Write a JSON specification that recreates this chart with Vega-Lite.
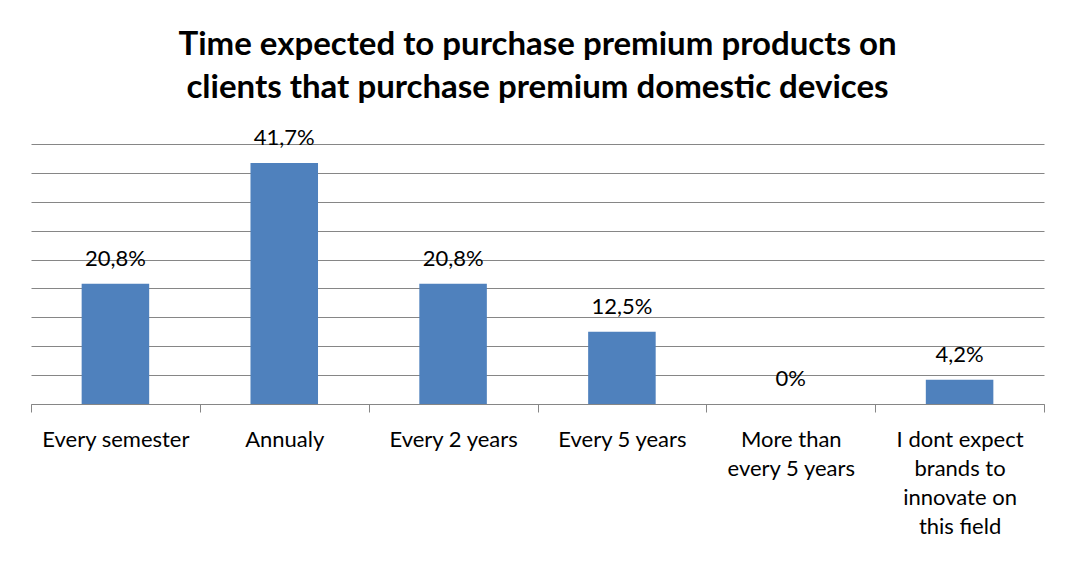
{
  "$schema": "https://vega.github.io/schema/vega-lite/v6.json",
  "width": 1013,
  "height": 260,
  "autosize": {"type": "none"},
  "padding": {"left": 31, "top": 144, "right": 28, "bottom": 164},
  "background": "white",
  "title": {
    "text": ["Time expected to purchase premium products on", "clients that purchase premium domestic devices"],
    "font": "Lato",
    "fontSize": 33,
    "fontWeight": "bold",
    "color": "#000000",
    "lineHeight": 43,
    "anchor": "middle",
    "offset": 22
  },
  "data": {
    "values": [
      {"cat": "Every semester", "value": 20.8, "label": "20,8%"},
      {"cat": "Annualy", "value": 41.7, "label": "41,7%"},
      {"cat": "Every 2 years", "value": 20.8, "label": "20,8%"},
      {"cat": "Every 5 years", "value": 12.5, "label": "12,5%"},
      {"cat": "More than|every 5 years", "value": 0, "label": "0%"},
      {"cat": "I dont expect|brands to|innovate on|this field", "value": 4.2, "label": "4,2%"}
    ]
  },
  "encoding": {
    "x": {
      "field": "cat",
      "type": "nominal",
      "sort": null,
      "scale": {"paddingInner": 0, "paddingOuter": 0},
      "axis": {
        "title": null,
        "labelAngle": 0,
        "labelExpr": "split(datum.label, '|')",
        "labelFont": "Lato",
        "labelFontSize": 22,
        "labelLineHeight": 29,
        "labelColor": "#000000",
        "labelPadding": 17,
        "labelLimit": 300,
        "tickBand": "extent",
        "tickSize": 8,
        "tickColor": "#868686",
        "domainColor": "#868686",
        "grid": false
      }
    },
    "y": {
      "field": "value",
      "type": "quantitative",
      "scale": {"domain": [0, 45], "nice": false},
      "axis": {
        "title": null,
        "labels": false,
        "ticks": false,
        "domain": false,
        "values": [0, 5, 10, 15, 20, 25, 30, 35, 40, 45],
        "grid": true,
        "gridColor": "#868686",
        "gridWidth": 1
      }
    }
  },
  "layer": [
    {"mark": {"type": "bar", "color": "#4F81BD", "width": {"band": 0.4}}},
    {
      "mark": {"type": "text", "baseline": "alphabetic", "dy": -18, "font": "Lato", "fontSize": 22, "color": "#000000"},
      "encoding": {"text": {"field": "label"}}
    }
  ],
  "config": {"view": {"stroke": null}}
}
